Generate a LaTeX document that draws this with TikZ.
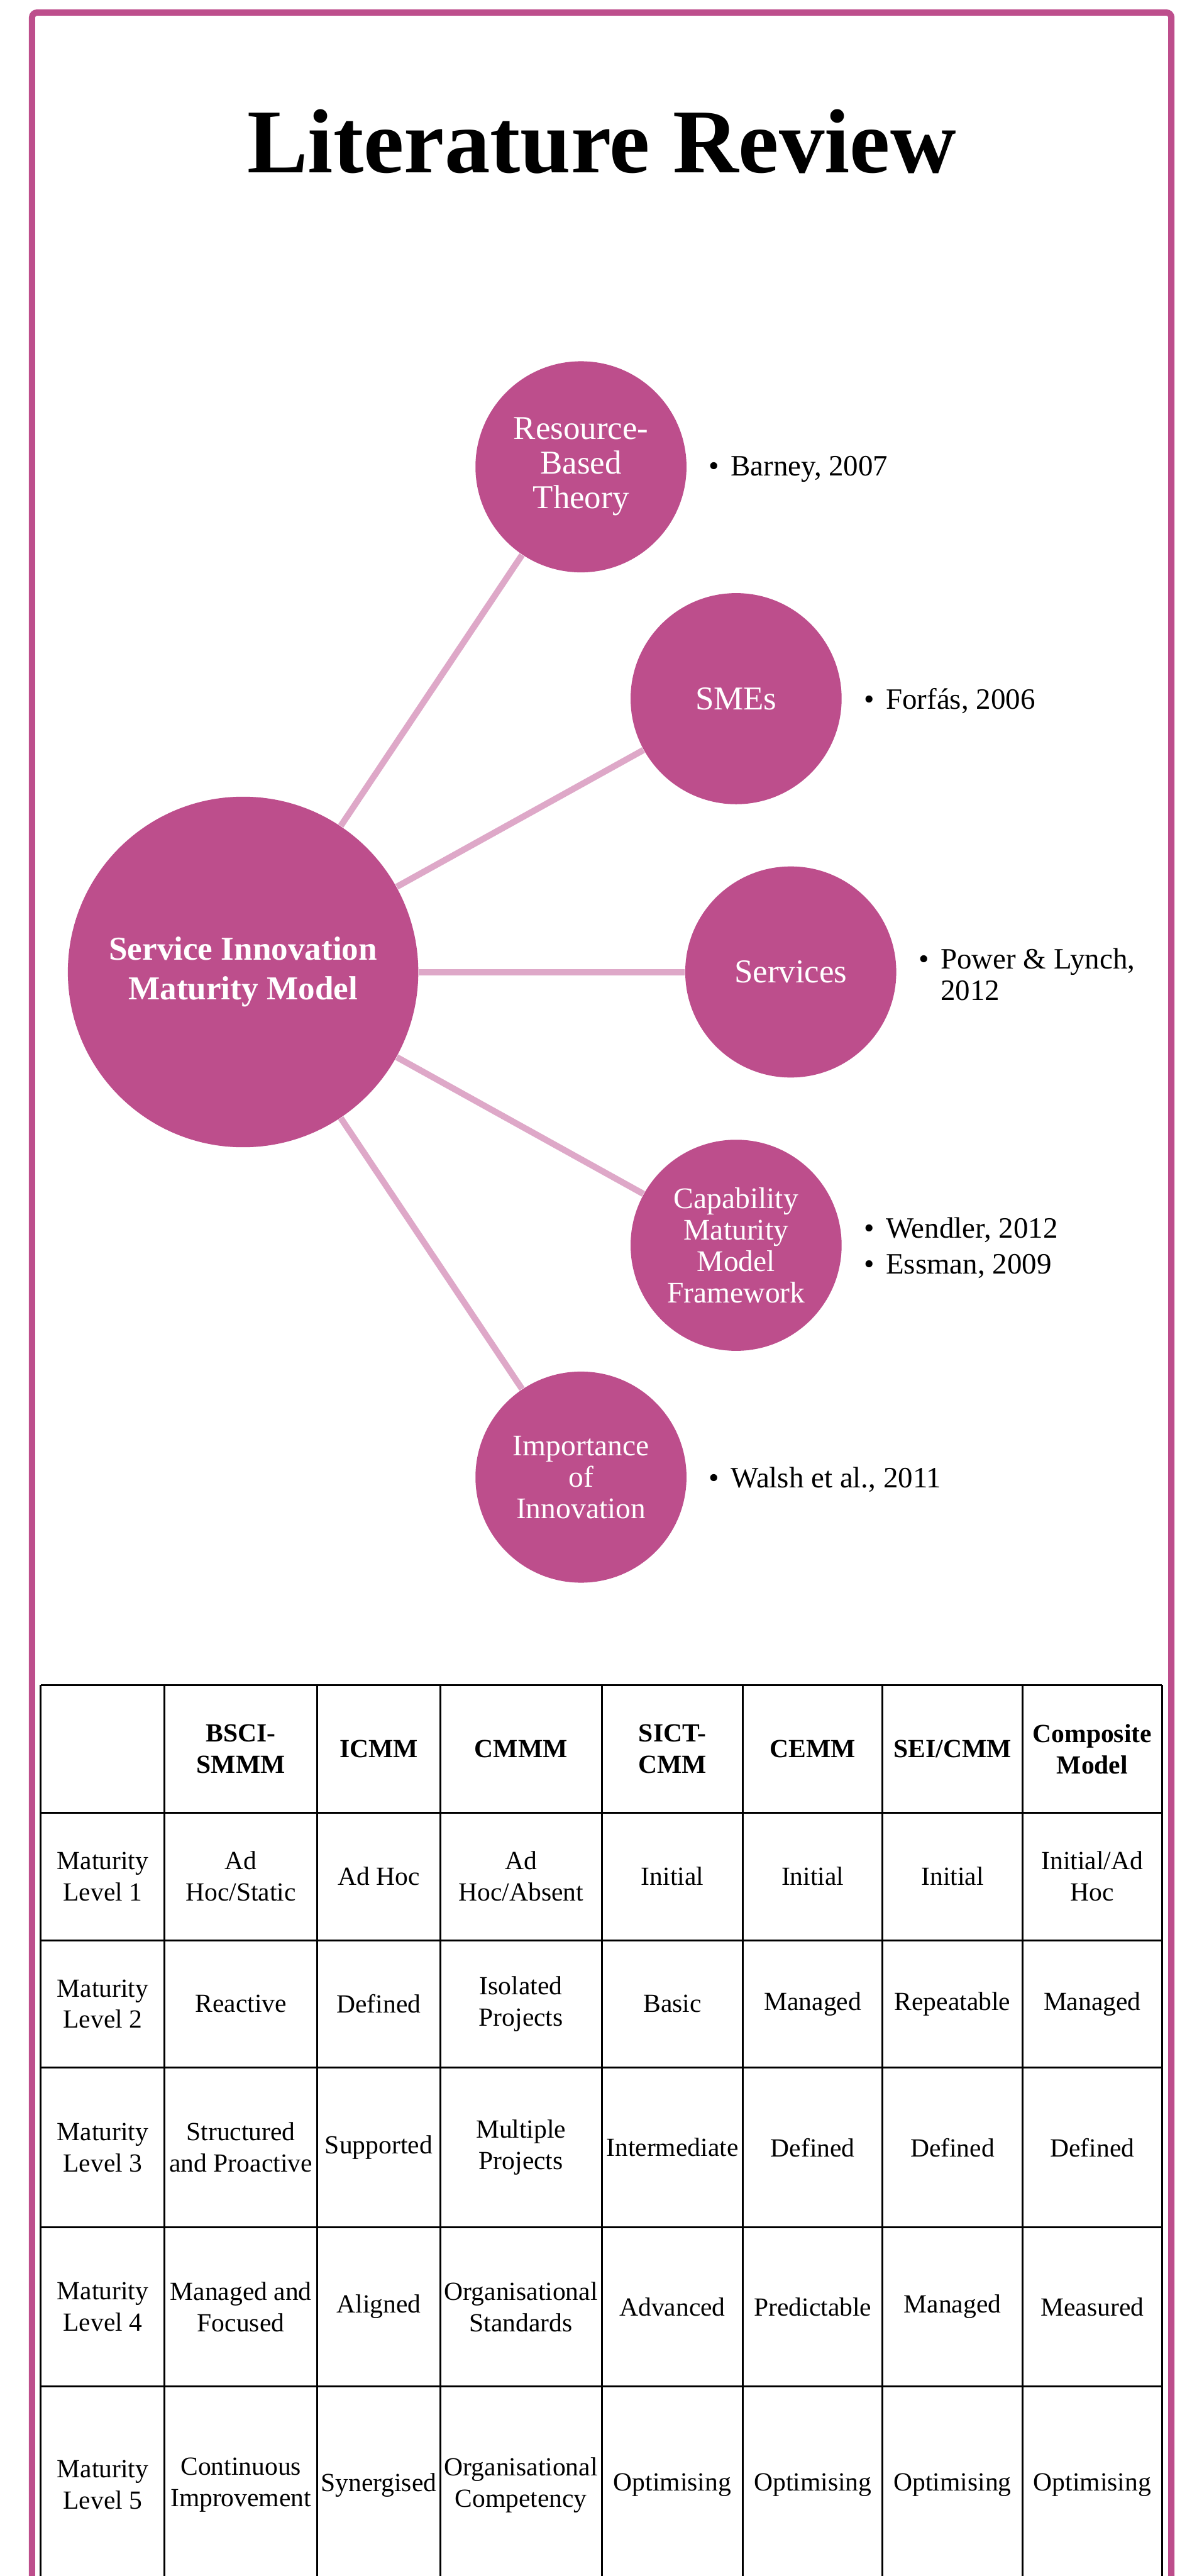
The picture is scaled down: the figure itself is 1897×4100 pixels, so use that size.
\documentclass[tikz,border=0pt]{standalone}
\usepackage{fontspec}
\setmainfont{Liberation Serif}
\usetikzlibrary{calc}

\definecolor{berry}{RGB}{189,78,140}
\definecolor{berrylight}{RGB}{222,168,200}

\newcommand{\bul}{\makebox[8.75pt][l]{\textbullet}}

\tikzset{
	hub/.style={circle, fill=berry, text=white, inner sep=0pt, minimum size=139.5pt, align=center, font=\bfseries\fontsize{13.3pt}{15.75pt}\selectfont},
	topic/.style={circle, fill=berry, text=white, inner sep=0pt, minimum size=84pt, align=center, font=\fontsize{13.25pt}{13.75pt}\selectfont},
	smalltopic/.style={topic, font=\fontsize{11.9pt}{12.5pt}\selectfont},
	spoke/.style={draw=berrylight, line width=2.5pt},
	cite/.style={anchor=west, inner sep=0pt, align=left, font=\fontsize{11.75pt}{12.5pt}\selectfont},
	cell/.style={inner sep=0pt, align=center, font=\fontsize{10.4pt}{12.5pt}\selectfont},
	headcell/.style={cell, font=\bfseries\fontsize{10.4pt}{12.5pt}\selectfont},
	tablerule/.style={draw=black, line width=0.75pt}
}

\begin{document}
\begin{tikzpicture}[x=0.25pt, y=-0.25pt]
		%page size
		\useasboundingbox (0,0) rectangle (1897,4100);
		\clip (0,0) rectangle (1897,4100);
		
		%frame
		\draw [berry, line width=2.5pt, rounded corners=2pt] (51,4130) -- (51,20) -- (1865,20) -- (1865,4130);
		
		%title
		\node [anchor=base, inner sep=0pt, font=\bfseries\fontsize{36.25pt}{40pt}\selectfont] (title) at (958,275) {Literature Review};
		
		%hub and topics
		\node [hub] (simm) at (387,1547) {Service Innovation\\Maturity Model};
		\node [topic] (rbt) at (925,743) {Resource-\\Based\\Theory};
		\node [topic] (smes) at (1172,1112) {SMEs};
		\node [topic] (serv) at (1259,1547) {Services};
		\node [smalltopic] (cmmf) at (1172,1982) {Capability\\Maturity\\Model\\Framework};
		\node [smalltopic] (impi) at (925,2351) {Importance\\of\\Innovation};
		
		%spokes
		\draw [spoke] (simm) -- (rbt);
		\draw [spoke] (simm) -- (smes);
		\draw [spoke] (simm) -- (serv);
		\draw [spoke] (simm) -- (cmmf);
		\draw [spoke] (simm) -- (impi);
		
		%references
		\node [cite] (rbtcite) at ($(rbt.east)+(34,4)$) {\bul Barney, 2007};
		\node [cite] (smescite) at ($(smes.east)+(34,4)$) {\bul Forfás, 2006};
		\node [cite] (servcite) at ($(serv.east)+(34,4)$) {\bul Power \& Lynch,\\\hspace*{8.75pt}2012};
		\node [cite] (cmmfcite) at ($(cmmf.east)+(34,4)$) {\bul Wendler, 2012\\[1.75pt]\bul Essman, 2009};
		\node [cite] (impicite) at ($(impi.east)+(34,4)$) {\bul Walsh et al., 2011};
		
		%table rules
		\draw [tablerule] (65,2682) -- (1850,2682) (65,2885) -- (1850,2885) (65,3088) -- (1850,3088)
			(65,3291) -- (1850,3291) (65,3545) -- (1850,3545) (65,3798) -- (1850,3798);
		\draw [tablerule] (65,2682) -- (65,4130) (262,2682) -- (262,4130) (505,2682) -- (505,4130)
			(701,2682) -- (701,4130) (958,2682) -- (958,4130) (1183,2682) -- (1183,4130)
			(1405,2682) -- (1405,4130) (1628,2682) -- (1628,4130) (1850,2682) -- (1850,4130);
		
		%column and row centres
		\def\colA{163.5};
		\def\colB{383.5};
		\def\colC{603};
		\def\colD{829.5};
		\def\colE{1070.5};
		\def\colF{1294};
		\def\colG{1516.5};
		\def\colH{1739};
		\def\rowH{2783.5};
		\def\rowA{2986.5};
		\def\rowB{3189.5};
		\def\rowC{3418};
		\def\rowD{3671.5};
		\def\rowE{3955};
		
		%header
		\node [headcell] (hdb) at (\colB,\rowH) {BSCI-\\SMMM};
		\node [headcell] (hdc) at (\colC,\rowH) {ICMM};
		\node [headcell] (hdd) at (\colD,\rowH) {CMMM};
		\node [headcell] (hde) at (\colE,\rowH) {SICT-\\CMM};
		\node [headcell] (hdf) at (\colF,\rowH) {CEMM};
		\node [headcell] (hdg) at (\colG,\rowH) {SEI/CMM};
		\node [headcell] (hdh) at (\colH,\rowH) {Composite\\Model};
		
		%level 1
		\node [cell] (l1a) at (\colA,\rowA) {Maturity\\Level 1};
		\node [cell] (l1b) at (\colB,\rowA) {Ad\\Hoc/Static};
		\node [cell] (l1c) at (\colC,\rowA) {Ad Hoc};
		\node [cell] (l1d) at (\colD,\rowA) {Ad\\Hoc/Absent};
		\node [cell] (l1e) at (\colE,\rowA) {Initial};
		\node [cell] (l1f) at (\colF,\rowA) {Initial};
		\node [cell] (l1g) at (\colG,\rowA) {Initial};
		\node [cell] (l1h) at (\colH,\rowA) {Initial/Ad\\Hoc};
		
		%level 2
		\node [cell] (l2a) at (\colA,\rowB) {Maturity\\Level 2};
		\node [cell] (l2b) at (\colB,\rowB) {Reactive};
		\node [cell] (l2c) at (\colC,\rowB) {Defined};
		\node [cell] (l2d) at (\colD,\rowB) {Isolated\\Projects};
		\node [cell] (l2e) at (\colE,\rowB) {Basic};
		\node [cell] (l2f) at (\colF,\rowB) {Managed};
		\node [cell] (l2g) at (\colG,\rowB) {Repeatable};
		\node [cell] (l2h) at (\colH,\rowB) {Managed};
		
		%level 3
		\node [cell] (l3a) at (\colA,\rowC) {Maturity\\Level 3};
		\node [cell] (l3b) at (\colB,\rowC) {Structured\\and Proactive};
		\node [cell] (l3c) at (\colC,\rowC) {Supported};
		\node [cell] (l3d) at (\colD,\rowC) {Multiple\\Projects};
		\node [cell] (l3e) at (\colE,\rowC) {Intermediate};
		\node [cell] (l3f) at (\colF,\rowC) {Defined};
		\node [cell] (l3g) at (\colG,\rowC) {Defined};
		\node [cell] (l3h) at (\colH,\rowC) {Defined};
		
		%level 4
		\node [cell] (l4a) at (\colA,\rowD) {Maturity\\Level 4};
		\node [cell] (l4b) at (\colB,\rowD) {Managed and\\Focused};
		\node [cell] (l4c) at (\colC,\rowD) {Aligned};
		\node [cell] (l4d) at (\colD,\rowD) {Organisational\\Standards};
		\node [cell] (l4e) at (\colE,\rowD) {Advanced};
		\node [cell] (l4f) at (\colF,\rowD) {Predictable};
		\node [cell] (l4g) at (\colG,\rowD) {Managed};
		\node [cell] (l4h) at (\colH,\rowD) {Measured};
		
		%level 5
		\node [cell] (l5a) at (\colA,\rowE) {Maturity\\Level 5};
		\node [cell] (l5b) at (\colB,\rowE) {Continuous\\Improvement};
		\node [cell] (l5c) at (\colC,\rowE) {Synergised};
		\node [cell] (l5d) at (\colD,\rowE) {Organisational\\Competency};
		\node [cell] (l5e) at (\colE,\rowE) {Optimising};
		\node [cell] (l5f) at (\colF,\rowE) {Optimising};
		\node [cell] (l5g) at (\colG,\rowE) {Optimising};
		\node [cell] (l5h) at (\colH,\rowE) {Optimising};
	\end{tikzpicture}
\end{document}
